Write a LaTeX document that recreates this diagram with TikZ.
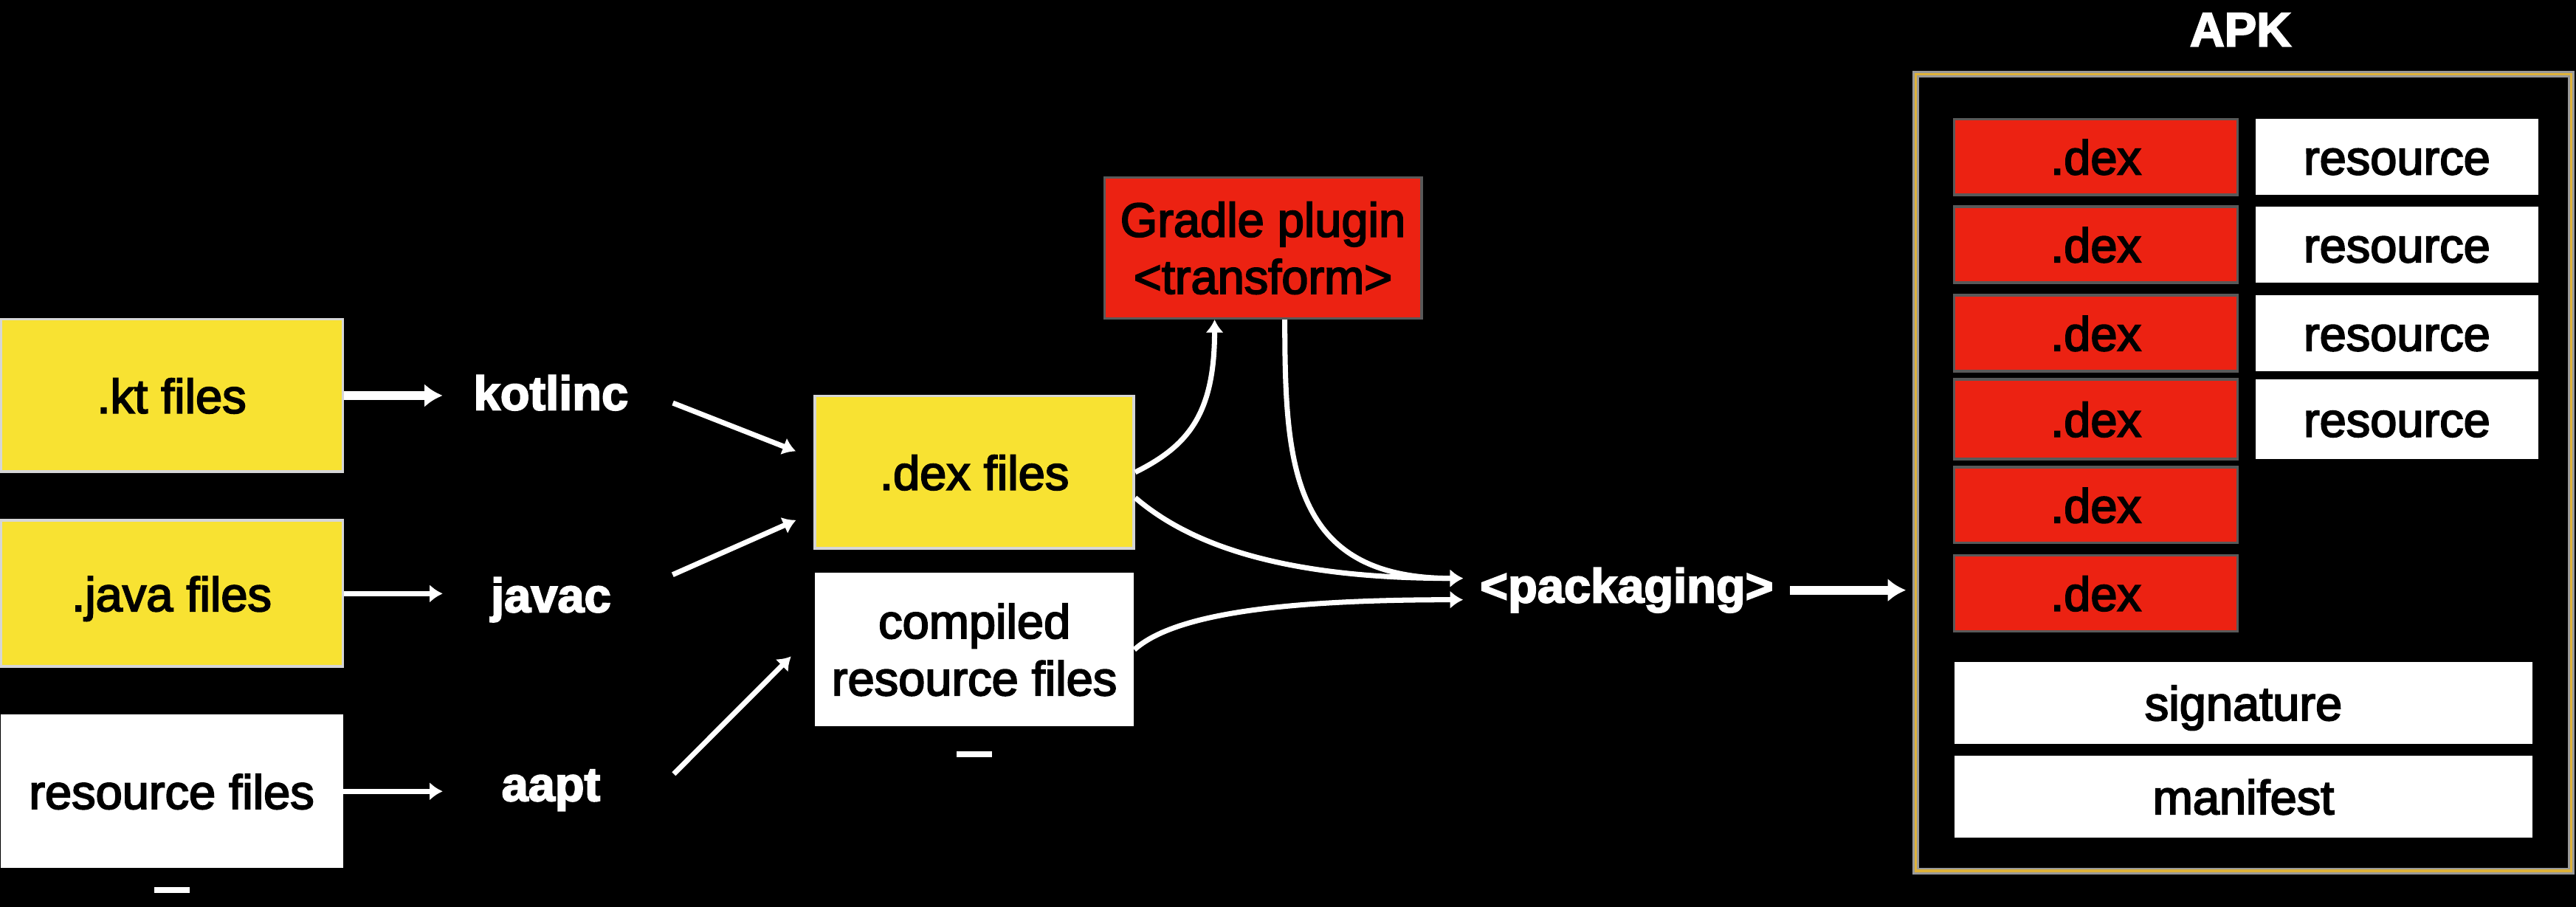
\documentclass[tikz,border=0pt]{standalone}
\usepackage{fontspec}
\setmainfont{Liberation Sans}
\newfontfamily\boxfont{Liberation Sans}[FakeBold=3]
\usetikzlibrary{arrows.meta}
\usetikzlibrary{positioning}
\definecolor{srcyellow}{RGB}{248,226,50}
\definecolor{dexred}{RGB}{236,34,18}
\definecolor{apkgold}{RGB}{222,178,58}

\begin{document}
\begin{tikzpicture}[font=\boxfont\fontsize{18.5}{22}\selectfont,
  filebox/.style={rectangle,inner sep=0pt},
  oneline/.style={text height=13.5pt,text depth=0pt},
  ybox/.style={filebox,oneline,fill=srcyellow,draw=black!16,line width=1.1pt},
  rbox/.style={filebox,oneline,fill=dexred,draw=black!65,line width=0.9pt},
  wbox/.style={filebox,oneline,fill=white},
  tool/.style={font=\boxfont\fontsize{18.5}{22}\selectfont\bfseries,text=white,minimum width=2.92cm,inner sep=0pt,text height=13.5pt,text depth=4pt},
  flow/.style={white,line width=2pt,-{Latex[length=5pt,width=7pt]}},
  bigflow/.style={white,line width=3.4pt,-{Latex[length=7pt,width=9pt]}}]
\draw[fill=black] (0,0) rectangle (34.9,12.28);
\useasboundingbox (0,0) rectangle (34.9,12.28);

\node[ybox,minimum width=4.64cm,minimum height=2.07cm] (kt) at (2.32,6.925) {.kt files};
\node[ybox,minimum width=4.64cm,minimum height=1.98cm] (java) at (2.32,4.24) {.java files};
\node[wbox,minimum width=4.64cm,minimum height=2.08cm] (res) at (2.32,1.56) {resource files};
\node[filebox,fill=white,minimum width=0.48cm,minimum height=0.08cm,below=0.24cm of res] (resmark) {};

\node[tool,anchor=base] (kotlinc) at (7.46,6.73) {kotlinc};
\node[tool,anchor=base] (javac) at (7.46,3.99) {javac};
\node[tool,anchor=base] (aapt) at (7.46,1.43) {aapt};

\node[ybox,minimum width=4.32cm,minimum height=2.07cm] (dexf) at (13.20,5.885) {.dex files};
\node[filebox,fill=white,align=center,minimum width=4.32cm,minimum height=2.08cm] (cres) at (13.20,3.48) {compiled\\resource files};
\node[filebox,fill=white,minimum width=0.48cm,minimum height=0.08cm,below=0.32cm of cres] (cresmark) {};
\node[filebox,fill=dexred,draw=black!65,line width=0.9pt,align=center,minimum width=4.30cm,minimum height=1.91cm] (gradle) at (17.11,8.925) {Gradle plugin\\<transform>};

\node[tool,anchor=base,minimum width=4.42cm] (pack) at (22.04,4.12) {<packaging>};

\node[draw=black!40,double=apkgold,double distance=1pt,line width=0.8pt,minimum width=8.88cm,minimum height=10.80cm] (apk) at (30.40,5.88) {};
\node[tool,anchor=base] (apklabel) at (30.36,11.66) {APK};

\node[rbox,minimum width=3.84cm,minimum height=1.03cm] (dex1) at (28.40,10.16) {.dex};
\node[rbox,minimum width=3.84cm,minimum height=1.03cm] (dex2) at (28.40,8.97) {.dex};
\node[rbox,minimum width=3.84cm,minimum height=1.03cm] (dex3) at (28.40,7.77) {.dex};
\node[rbox,minimum width=3.84cm,minimum height=1.08cm] (dex4) at (28.40,6.605) {.dex};
\node[rbox,minimum width=3.84cm,minimum height=1.03cm] (dex5) at (28.40,5.44) {.dex};
\node[rbox,minimum width=3.84cm,minimum height=1.03cm] (dex6) at (28.40,4.245) {.dex};
\node[wbox,minimum width=3.84cm,minimum height=1.03cm] (res1) at (32.48,10.16) {resource};
\node[wbox,minimum width=3.84cm,minimum height=1.03cm] (res2) at (32.48,8.97) {resource};
\node[wbox,minimum width=3.84cm,minimum height=1.03cm] (res3) at (32.48,7.77) {resource};
\node[wbox,minimum width=3.84cm,minimum height=1.08cm] (res4) at (32.48,6.605) {resource};
\node[wbox,minimum width=7.84cm,minimum height=1.11cm] (sig) at (30.40,2.76) {signature};
\node[wbox,minimum width=7.84cm,minimum height=1.11cm] (mani) at (30.40,1.487) {manifest};

\draw[bigflow] (kt.east) -- (kt.east -| kotlinc.west);
\draw[flow] (java.east) -- (java.east -| javac.west);
\draw[flow] (res.east) -- (res.east -| aapt.west);

\draw[flow,shorten <=2mm,shorten >=2.6mm] (kotlinc.east) -- (dexf.175);
\draw[flow,shorten <=2mm,shorten >=2.6mm] (javac.10) -- (dexf.194);
\draw[flow,shorten <=2.8mm,shorten >=4.5mm] (aapt.east) -- (cres.174);

\draw[flow] (dexf.east) .. controls +(0.7,0.35) and +(0,-1.3) .. (gradle.236);
\draw[flow] (gradle.287) .. controls +(0,-1.97) and +(-2.33,0) .. ([yshift=1.6mm]pack.west);
\draw[flow] (dexf.351) .. controls +(0.7,-0.6) and +(-2.53,0) .. ([yshift=1.6mm]pack.west);
\draw[flow] (cres.east) .. controls +(0.5,0.45) and +(-2.63,0) .. ([yshift=-1.3mm]pack.west);

\draw[bigflow,shorten >=1.2mm] (pack.east) -- (pack.east -| apk.west);

\end{tikzpicture}
\end{document}
